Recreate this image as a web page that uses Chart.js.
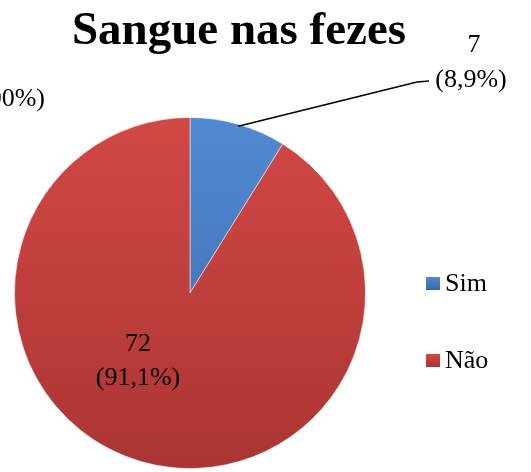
<!DOCTYPE html>
<html>
<head>
<meta charset="utf-8">
<script src="https://cdn.jsdelivr.net/npm/chart.js@4"></script>
<style>
  html, body { margin: 0; padding: 0; background: #fff; }
  #wrap { width: 531px; height: 472px; }
</style>
</head>
<body>
<div id="wrap"><canvas id="chart" width="531" height="472"></canvas></div>
<script>
// dados
const categorias = ['Sim', 'Não'];
const valores = [7, 72];
const percentuais = ['8,9%', '91,1%'];
const titulo = 'Sangue nas fezes';

const coresTopo = ['#5189d2', '#d24845'];
const coresBase = ['#3a6aaa', '#aa3532'];
const fonte = '"Liberation Serif", serif';

function gradiente(context) {
  const chart = context.chart;
  const area = chart.chartArea;
  if (!area) return coresTopo[context.dataIndex];
  const g = chart.ctx.createLinearGradient(0, area.top, 0, area.bottom);
  g.addColorStop(0, coresTopo[context.dataIndex]);
  g.addColorStop(1, coresBase[context.dataIndex]);
  return g;
}

// textos, rótulos e legenda desenhados à mão
const extras = {
  id: 'extras',
  afterDraw(chart) {
    const ctx = chart.ctx;
    const arcs = chart.getDatasetMeta(0).data;
    ctx.save();
    ctx.fillStyle = '#000';

    // título
    ctx.font = 'bold 47px ' + fonte;
    ctx.textAlign = 'center';
    ctx.textBaseline = 'middle';
    ctx.fillText(titulo, 239, 32);

    // rótulo cortado no canto
    ctx.font = '26px ' + fonte;
    ctx.textAlign = 'right';
    ctx.fillText('(100%)', 45, 99);

    // rótulo Sim, com linha de chamada
    const a = arcs[0];
    const meio = (a.startAngle + a.endAngle) / 2;
    const px = a.x + Math.cos(meio) * a.outerRadius;
    const py = a.y + Math.sin(meio) * a.outerRadius;
    ctx.strokeStyle = '#000';
    ctx.lineWidth = 1.5;
    ctx.beginPath();
    ctx.moveTo(px, py + 2);
    ctx.lineTo(417, 82);
    ctx.lineTo(429, 81);
    ctx.stroke();
    ctx.textAlign = 'center';
    ctx.fillText(String(valores[0]), 474, 45);
    ctx.fillText('(' + percentuais[0] + ')', 471, 80);

    // rótulo Não
    ctx.fillText(String(valores[1]), 138, 344);
    ctx.fillText('(' + percentuais[1] + ')', 138, 378);

    // legenda
    const ly = [283, 360];
    categorias.forEach((c, i) => {
      const g = ctx.createLinearGradient(0, ly[i] - 6, 0, ly[i] + 6);
      g.addColorStop(0, coresTopo[i]);
      g.addColorStop(1, coresBase[i]);
      ctx.fillStyle = g;
      ctx.fillRect(426, ly[i] - 6, 14, 13);
      ctx.fillStyle = '#000';
      ctx.textAlign = 'left';
      ctx.font = '26px ' + fonte;
      ctx.fillText(c, 445, ly[i] + 1);
    });
    ctx.restore();
  }
};

function desenhar() {
  new Chart(document.getElementById('chart'), {
    type: 'pie',
    data: {
      labels: categorias,
      datasets: [{
        data: valores,
        backgroundColor: gradiente,
        borderColor: 'rgba(255,255,255,0.5)',
        borderWidth: 1
      }]
    },
    options: {
      responsive: false,
      animation: false,
      layout: { padding: { left: 14, top: 117, right: 165, bottom: 3 } },
      plugins: {
        legend: { display: false },
        title: { display: false },
        tooltip: { enabled: false }
      }
    },
    plugins: [extras]
  });
}

Promise.all([
  document.fonts.load('bold 47px "Liberation Serif"'),
  document.fonts.load('26px "Liberation Serif"')
]).then(desenhar, desenhar);
</script>
</body>
</html>
